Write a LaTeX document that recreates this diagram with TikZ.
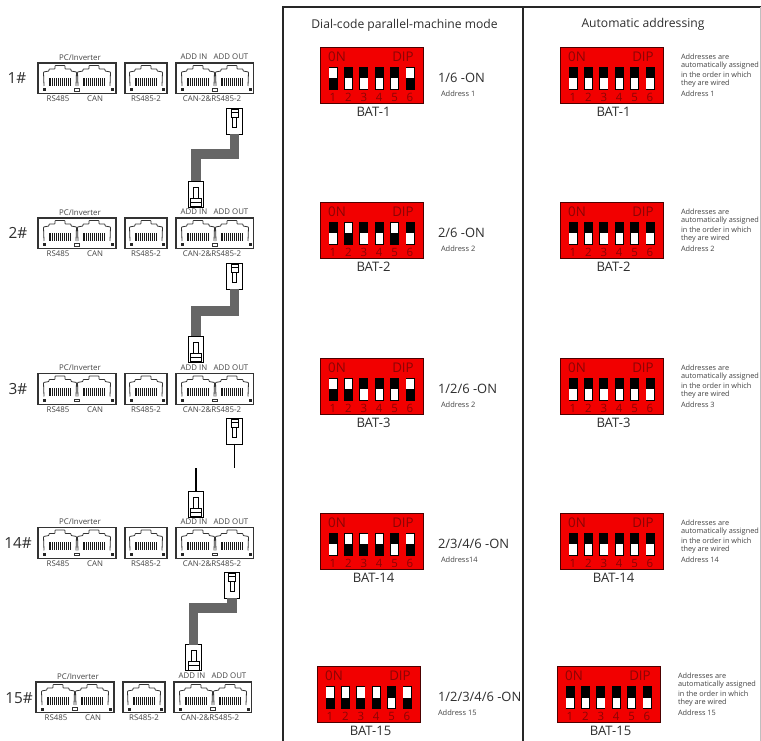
\documentclass[tikz,border=0pt]{standalone}
\usepackage{fontspec}
\setmainfont{Open Sans}
\usetikzlibrary{calc}
\definecolor{dipred}{HTML}{F20000}
\definecolor{dipdark}{HTML}{8A0505}
\definecolor{txt}{HTML}{2E2E2E}
\definecolor{small}{HTML}{444444}
\definecolor{edge}{HTML}{333333}
\definecolor{cablegray}{HTML}{666666}
\tikzset{
  x=0.75pt,y=-0.75pt,
  every node/.style={inner sep=0pt,outer sep=0pt,text=txt},
  boxline/.style={draw=edge,line width=0.8pt,fill=white},
  portline/.style={draw=edge,line width=0.6pt,rounded corners=0.5pt},
  lab/.style={font=\fontsize{5.9}{6}\selectfont,text=small},
  dipbox/.style={draw=black!70!red,line width=0.6pt,fill=dipred,minimum width=77.5pt,minimum height=42pt,anchor=north west},
  diptxt/.style={font=\fontsize{10}{10}\selectfont,text=dipdark},
  dipnum/.style={font=\fontsize{8.6}{9}\selectfont,text=dipdark},
  batlab/.style={font=\fontsize{9.8}{10}\selectfont,text=txt},
  ontxt/.style={font=\fontsize{9.7}{10}\selectfont,anchor=west,text=txt},
  addr/.style={font=\fontsize{5.6}{6}\selectfont,anchor=west,text=small},
  auto/.style={font=\fontsize{5.5}{6}\selectfont,anchor=west,text=small},
  plugbox/.style={draw=black,line width=0.7pt,fill=white,minimum width=11.5pt,minimum height=19.5pt,anchor=north},
  cable/.style={draw=cablegray,line width=7pt,line join=miter},
  thinwire/.style={draw=black,line width=1.2pt},
  rownum/.style={font=\fontsize{11.5}{12}\selectfont,text=txt},
  panel/.style={draw=black!85,line width=1.1pt},
  titletxt/.style={font=\fontsize{9.1}{10}\selectfont,text=txt},
}
% one RJ45 port, centred at x, with y measured from the box top
\newcommand\rjport[1]{%
  \begin{scope}[shift={(#1,0)}]
    \draw[portline] (-16,23) -- (-16.5,9) -- (-11,8) -- (-11,6) -- (-5,6) -- (-5,2.5) -- (5,2.5) -- (5,6) -- (11,6) -- (11,8) -- (16.5,9) -- (16,23);
    \fill[black!90] (-11,15) rectangle (11,23);
    \foreach \q in {-9,-7,...,9} \draw[white,line width=0.12pt] (\q,15) -- (\q,23);
  \end{scope}}
\newcommand\portrow[3]{% name, left, top
  \begin{scope}[shift={(#2,#3)}]
    \node[boxline,minimum width=58.5pt,minimum height=23pt,anchor=north west] (#1a) at (0,0) {};
    \node[boxline,minimum width=31.5pt,minimum height=23pt,anchor=north west] (#1b) at (87,0) {};
    \node[boxline,minimum width=58pt,minimum height=23pt,anchor=north west] (#1c) at (138,0) {};
    \rjport{22}\rjport{56}\rjport{108}\rjport{160}\rjport{194}
    \foreach \dx in {6,74,93,125,144,212} \fill[black!85] (\dx-1.5,25.5) rectangle (\dx+1.5,28.5);
    \foreach \dx in {39,177} \draw[edge,line width=0.5pt] (\dx-2.5,25.5) rectangle (\dx+2.5,28);
    \node[lab] (#1pc) at (42,-5.5) {PC/Inverter};
    \node[lab] (#1addin) at (156,-6) {ADD IN};
    \node[lab] (#1addout) at (193,-6) {ADD OUT};
    \node[lab] (#1rs) at (20,36) {RS485};
    \node[lab] (#1can) at (57,36) {CAN};
    \node[lab] (#1rs2) at (108,36) {RS485-2};
    \node[lab] (#1can2) at (174,36) {CAN-2\&RS485-2};
  \end{scope}}
\newcommand\dip[5]{% name, left, top, states (1 = white on top), label
  \begin{scope}[shift={(#2,#3)}]
    \node[dipbox] (#1) at (0,0) {};
    \node[diptxt] (#1on) at (17,10) {0N};
    \node[diptxt] (#1dip) at (83,10) {DIP};
    \foreach \s [count=\i] in {#4} {
      \pgfmathsetmacro\cx{13+(\i-1)*15.4}
      \fill[black] (\cx-4.5,20) rectangle (\cx+4.5,43);
      \ifnum\s=1
        \fill[white] (\cx-3.7,20.8) rectangle (\cx+3.7,31.5);
      \else
        \fill[white] (\cx-3.7,31.5) rectangle (\cx+3.7,42.2);
      \fi
      \node[dipnum] (#1n\i) at (\cx,50) {\i};
    }
    \node[batlab] (#1lab) at (53.5,65) {#5};
  \end{scope}}
\newcommand\onlabel[5]{% name, x, top, text, address
  \node[ontxt] (#1t) at (#2,#3+31) {#4};
  \node[addr] (#1a) at (#2+3,#3+47) {#5};}
\newcommand\autotext[4]{% name, x, top, address
  \node[auto] (#1l1) at (#2,#3+10) {Addresses are};
  \node[auto] (#1l2) at (#2,#3+19) {automatically assigned};
  \node[auto] (#1l3) at (#2,#3+28) {in the order in which};
  \node[auto] (#1l4) at (#2,#3+36.5) {they are wired};
  \node[auto] (#1l5) at (#2,#3+47) {#4};}
\newcommand\plugup[3]{% name, centre x, top: latch at the top
  \node[plugbox] (#1) at (#2,#3) {};
  \draw[black,line width=0.6pt] (#2-3.5,#3+1) rectangle (#2+3.5,#3+9);
  \draw[black,line width=0.6pt] (#2-3.5,#3+4) -- (#2+3.5,#3+4);
  \draw[black,line width=0.6pt] (#2-2,#3+9) rectangle (#2+2,#3+19);}
\newcommand\plugdown[3]{% name, centre x, top: latch at the bottom
  \node[plugbox] (#1) at (#2,#3) {};
  \draw[black,line width=0.6pt] (#2-2.5,#3+6) rectangle (#2+2.5,#3+17);
  \draw[black,line width=0.7pt] (#2-5.5,#3+17) rectangle (#2+5.5,#3+25.5);
  \draw[black,line width=0.6pt] (#2-5.5,#3+21) -- (#2+5.5,#3+21);}
\begin{document}
\begin{tikzpicture}
\useasboundingbox (0,0) rectangle (761,741);
\fill[white] (0,0) rectangle (761,741);
% panels
\coordinate (tl) at (283,7);
\coordinate (tr) at (761,7);
\coordinate (bl) at (283,741);
\coordinate (ml) at (523,7);
\coordinate (mb) at (523,741);
\draw[panel] (bl) -- (tl) -- (tr);
\draw[panel] (ml) -- (mb);
\draw[black!25,line width=0.5pt] (760.5,7) -- (760.5,741);
\node[titletxt] (title1) at (404.5,25) {Dial-code parallel-machine mode};
\node[titletxt] (title2) at (643,24) {Automatic addressing};
% row numbers
\node[rownum] (n1) at (17,78) {1\#};
\node[rownum] (n2) at (18,233) {2\#};
\node[rownum] (n3) at (18,389) {3\#};
\node[rownum] (n14) at (18,543) {14\#};
\node[rownum] (n15) at (19,698) {15\#};
% port rows
\portrow{pa}{38}{63}
\portrow{pb}{38}{218}
\portrow{pc}{38}{373.5}
\portrow{pd}{38}{527.5}
\portrow{pe}{36}{682}
% cables
\coordinate (w3a) at (235,468);
\coordinate (w3b) at (196,468);
\plugup{ua}{234.5}{108}
\plugdown{da}{196}{181}
\plugup{ub}{234.5}{263}
\plugdown{db}{196}{336}
\plugup{uc}{234.5}{418}
\plugdown{dc}{196}{491}
\plugup{ud}{232}{572}
\plugdown{dd}{193.5}{644.5}
\draw[cable] (ua.south) -- ++(0,20) -| (da.north);
\draw[cable] (ub.south) -- ++(0,22) -| (db.north);
\draw[thinwire] (uc.south) -- (uc.south |- w3a);
\draw[thinwire] (dc.north) -- (dc.north |- w3b);
\draw[cable] (ud.south) -- ++(0,10) -| (dd.north);
% dial-code column
\dip{ma}{320}{47}{1,0,0,0,0,1}{BAT-1}
\dip{mb}{320}{202}{0,1,0,0,1,0}{BAT-2}
\dip{mc}{320}{358}{1,1,0,0,0,1}{BAT-3}
\dip{md}{320}{513}{0,1,1,1,0,1}{BAT-14}
\dip{me}{317}{666}{1,1,1,1,0,1}{BAT-15}
\onlabel{oa}{438}{47}{1/6 -ON}{Address 1}
\onlabel{ob}{438}{202}{2/6 -ON}{Address 2}
\onlabel{oc}{438}{358}{1/2/6 -ON}{Address 2}
\onlabel{od}{438}{513}{2/3/4/6 -ON}{Address14}
\node[ontxt] (oet) at (438,697) {1/2/3/4/6 -ON};
\node[addr] (oea) at (438,713) {Address 15};
% automatic column
\dip{ra}{560}{47}{0,0,0,0,0,0}{BAT-1}
\dip{rb}{560}{202}{0,0,0,0,0,0}{BAT-2}
\dip{rc}{560}{358}{0,0,0,0,0,0}{BAT-3}
\dip{rd}{560}{513}{0,0,0,0,0,0}{BAT-14}
\dip{re}{557}{666}{0,0,0,0,0,0}{BAT-15}
\autotext{aa}{681}{47}{Address 1}
\autotext{ab}{681}{202}{Address 2}
\autotext{ac}{681}{358}{Address 3}
\autotext{ad}{681}{513}{Address 14}
\autotext{ae}{678}{666}{Address 15}
\end{tikzpicture}
\end{document}
